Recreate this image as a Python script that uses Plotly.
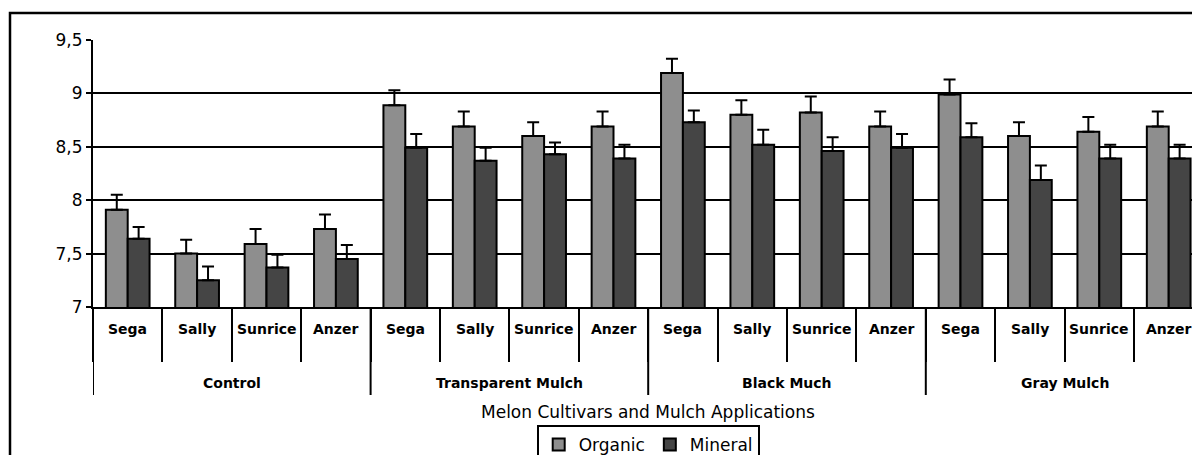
import plotly.graph_objects as go

treatments = ["Control", "Transparent Mulch", "Black Much", "Gray Mulch"]
cultivars = ["Sega", "Sally", "Sunrice", "Anzer"]

organic = [7.91, 7.50, 7.59, 7.73, 8.89, 8.69, 8.60, 8.69, 9.19, 8.80, 8.82, 8.69, 8.99, 8.60, 8.64, 8.69]
organic_err = [0.14, 0.13, 0.14, 0.135, 0.14, 0.14, 0.13, 0.14, 0.135, 0.135, 0.15, 0.14, 0.14, 0.13, 0.14, 0.14]
mineral = [7.64, 7.25, 7.37, 7.45, 8.49, 8.37, 8.43, 8.39, 8.73, 8.52, 8.46, 8.49, 8.59, 8.19, 8.39, 8.39]
mineral_err = [0.11, 0.13, 0.12, 0.13, 0.13, 0.12, 0.11, 0.13, 0.11, 0.14, 0.13, 0.13, 0.13, 0.135, 0.13, 0.13]

y_ticks = [7, 7.5, 8, 8.5, 9, 9.5]
x_title = "Melon Cultivars and Mulch Applications"

cats = [f"{t} | {c}" for t in treatments for c in cultivars]
n = len(cats)
ncult = len(cultivars)

W, H = 1192, 472
L, T = 93, 40
plot_h = 267
B = H - T - plot_h
plot_w = W - L
cat_px = 69.4
x_right = -0.5 + plot_w / cat_px


def py(px_below_axis):
    return -px_below_axis / plot_h


FONT = "DejaVu Sans"

fig = go.Figure()
fig.add_trace(go.Bar(
    x=cats, y=organic, name="Organic",
    marker=dict(color="#8e8e8e", line=dict(color="black", width=2)),
    error_y=dict(type="data", symmetric=False, array=organic_err, arrayminus=[0] * n,
                 color="black", thickness=2, width=6),
))
fig.add_trace(go.Bar(
    x=cats, y=mineral, name="Mineral",
    marker=dict(color="#454545", line=dict(color="black", width=2)),
    error_y=dict(type="data", symmetric=False, array=mineral_err, arrayminus=[0] * n,
                 color="black", thickness=2, width=6),
))

annotations = []
for i in range(n):
    annotations.append(dict(
        x=i, xref="x", y=py(22), yref="paper", text=cultivars[i % ncult],
        showarrow=False, font=dict(family=FONT, size=14, color="black", weight="bold"),
        xanchor="center", yanchor="middle"))
for g, t in enumerate(treatments):
    annotations.append(dict(
        x=g * ncult + (ncult - 1) / 2, xref="x", y=py(76), yref="paper", text=t,
        showarrow=False, font=dict(family=FONT, size=14, color="black", weight="bold"),
        xanchor="center", yanchor="middle"))
center_frac = (n * cat_px / 2) / plot_w
annotations.append(dict(
    x=center_frac, xref="paper", y=py(105), yref="paper", text=x_title,
    showarrow=False, font=dict(family=FONT, size=17, color="black"),
    xanchor="center", yanchor="middle"))

shapes = []
for g in range(len(treatments) + 1):
    shapes.append(dict(type="line", xref="x", yref="paper",
                       x0=g * ncult - 0.5, x1=g * ncult - 0.5, y0=0, y1=py(88),
                       line=dict(color="black", width=2)))
# outer frame
shapes.append(dict(type="rect", xref="paper", yref="paper",
                   x0=(10 - L) / plot_w, x1=1.05, y0=-0.8,
                   y1=(T + plot_h - 13) / plot_h,
                   line=dict(color="black", width=2.5), fillcolor="rgba(0,0,0,0)", layer="below"))

fig.update_layout(
    width=W, height=H,
    margin=dict(l=L, r=0, t=T, b=B),
    paper_bgcolor="white", plot_bgcolor="white",
    separators=",.",
    barmode="group", bargap=0.37, bargroupgap=0,
    font=dict(family=FONT, color="black"),
    showlegend=True,
    legend=dict(orientation="h", xanchor="center", x=center_frac,
                yanchor="top", y=py(118), bordercolor="black", borderwidth=2,
                font=dict(family=FONT, size=17, color="black"),
                bgcolor="white", itemwidth=30, tracegroupgap=0),
    annotations=annotations,
    shapes=shapes,
)
fig.update_xaxes(
    type="category", range=[-0.5, x_right],
    showticklabels=False, showgrid=False,
    ticks="outside", tickson="boundaries", ticklen=53, tickwidth=2, tickcolor="black",
    showline=True, linecolor="black", linewidth=2,
)
fig.update_yaxes(
    range=[7, 9.5], tickvals=y_ticks,
    showgrid=True, gridcolor="black", gridwidth=2,
    ticks="outside", ticklen=5, tickwidth=2, tickcolor="black",
    showline=True, linecolor="black", linewidth=2,
    tickfont=dict(family=FONT, size=17, color="black"),
    zeroline=False,
)

fig.write_html(
    "out.html",
    config={"displayModeBar": False},
    post_script=(
        "document.body.style.margin='0';"
        "document.body.style.overflow='hidden';"
        "document.documentElement.style.overflow='hidden';"
    ),
)
